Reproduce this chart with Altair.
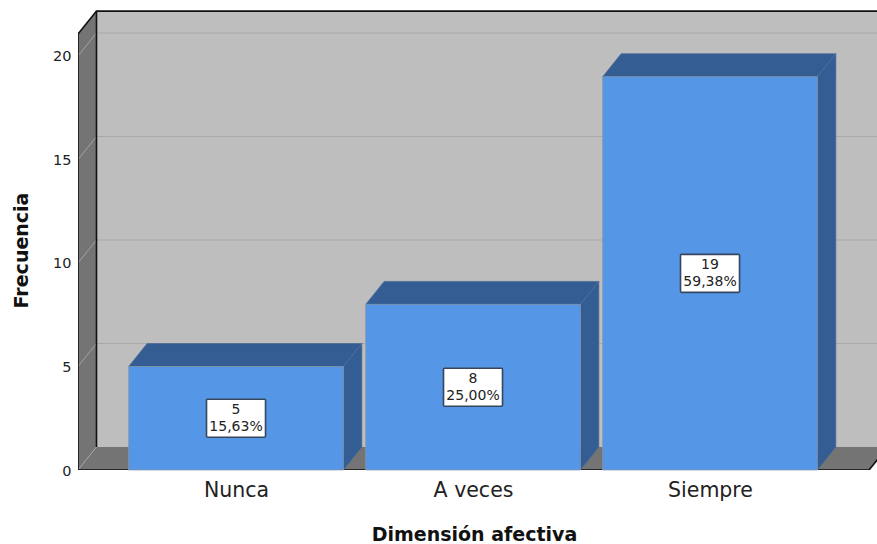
import altair as alt
import pandas as pd

# Values of the chart
categories = ["Nunca", "A veces", "Siempre"]
counts = [5, 8, 19]
percents = ["15,63%", "25,00%", "59,38%"]
y_ticks = [0, 5, 10, 15, 20]

# Geometry of the pseudo-3D box, in data units (category index / frequency)
BAR_HALF = 0.453
DX = 0.078
DY = 1.11
X_MIN = -0.6667
X_MAX = 2.7046
X_FLOOR_END = 2.671
Y_MAX = 22.705
WALL_TOP = 21.06

FRONT = "#5596e6"
SHADE = "#345d94"
EDGE = "#8b95a3"
FACE_EDGE = "#4c6c98"
WALL = "#bebebe"
DARK = "#747474"
FONT = "DejaVu Sans"

x_scale = alt.Scale(domain=[X_MIN, X_MAX], nice=False, zero=False)
y_scale = alt.Scale(domain=[0, Y_MAX], nice=False, zero=False)

# Both axes are shared by every layer so that they merge into one
names = "[" + ",".join(f"'{c}'" for c in categories) + "]"
x_axis = alt.Axis(
    values=[0, 1, 2], labelExpr=f"{names}[datum.value]", title="Dimensión afectiva",
    domain=False, ticks=False, grid=False, labelFont=FONT, labelFontSize=20.5,
    labelColor="#222222", labelPadding=10, labelFlush=False,
    titleFont=FONT, titleFontSize=19, titleFontWeight="bold", titleColor="#111111",
    titleX=396, titleY=55,
)
y_axis = alt.Axis(
    values=y_ticks, title="Frecuencia", domain=False, ticks=False, grid=False,
    labelFont=FONT, labelFontSize=14.5, labelColor="#222222", labelPadding=7, labelOffset=1,
    titleFont=FONT, titleFontSize=19, titleFontWeight="bold", titleColor="#111111",
    titleX=-47, titleY=250,
)


def X(field="x"):
    return alt.X(field, type="quantitative", scale=x_scale, axis=x_axis)


def Y(field="y"):
    return alt.Y(field, type="quantitative", scale=y_scale, axis=y_axis, stack=None)


X2 = alt.X2("x2")
Y2 = alt.Y2("y2")

# Back wall
back_wall = alt.Chart(pd.DataFrame([{
    "x": X_MIN + DX, "x2": X_MAX + DX, "y": DY, "y2": WALL_TOP + DY
}])).mark_rect(color=WALL, clip=True).encode(x=X(), x2=X2, y=Y(), y2=Y2)

# Left wall
left_wall = alt.Chart(pd.DataFrame([
    {"x": X_MIN, "y": 0, "y2": WALL_TOP},
    {"x": X_MIN + DX, "y": DY, "y2": WALL_TOP + DY},
])).mark_area(color=DARK, clip=True, orient="vertical").encode(x=X(), y=Y(), y2=Y2)

# Floor
floor = alt.Chart(pd.DataFrame([
    {"y": 0, "x": X_MIN, "x2": X_FLOOR_END},
    {"y": DY, "x": X_MIN + DX, "x2": X_FLOOR_END + DX},
])).mark_area(color=DARK, clip=True, orient="horizontal").encode(x=X(), x2=X2, y=Y())

# Gridlines on the back wall and on the left wall
back_grid = alt.Chart(pd.DataFrame([
    {"x": X_MIN + DX, "x2": X_MAX + DX, "y": v + DY} for v in y_ticks[1:]
])).mark_rule(color="#a9a9a9", strokeWidth=1, clip=True).encode(x=X(), x2=X2, y=Y())

side_grid = alt.Chart(pd.DataFrame(
    [{"v": v, "x": X_MIN, "y": v} for v in y_ticks]
    + [{"v": v, "x": X_MIN + DX, "y": v + DY} for v in y_ticks]
)).mark_line(color="#a3a3a3", strokeWidth=1, clip=True).encode(x=X(), y=Y(), detail="v:N")

# Black outline of the box
outline_rows = [
    ("front", X_MIN, 0), ("front", X_MIN, WALL_TOP), ("front", X_MIN + DX, WALL_TOP + DY),
    ("front", X_MAX + DX, WALL_TOP + DY),
    ("back", X_MIN + DX, WALL_TOP + DY), ("back", X_MIN + DX, DY),
    ("base", X_MIN, 0), ("base", X_FLOOR_END, 0), ("base", X_FLOOR_END + DX, DY),
]
outline = alt.Chart(pd.DataFrame(
    [{"part": p, "i": i, "x": x, "y": y} for i, (p, x, y) in enumerate(outline_rows)]
)).mark_line(color="#111111", strokeWidth=1.6, clip=True).encode(
    x=X(), y=Y(), detail="part:N", order="i:Q"
)

# Bars: top face, side face, front face
top_rows, side_rows, front_rows = [], [], []
for i, v in enumerate(counts):
    left, right = i - BAR_HALF, i + BAR_HALF
    top_rows += [
        {"i": i, "y": v, "x": left, "x2": right},
        {"i": i, "y": v + DY, "x": left + DX, "x2": right + DX},
    ]
    side_rows += [
        {"i": i, "x": right, "y": 0, "y2": v},
        {"i": i, "x": right + DX, "y": DY, "y2": v + DY},
    ]
    front_rows.append({"x": left, "x2": right, "y": 0, "y2": v})

top_faces = alt.Chart(pd.DataFrame(top_rows)).mark_area(
    color=SHADE, orient="horizontal", stroke=FACE_EDGE, strokeWidth=0.7
).encode(x=X(), x2=X2, y=Y(), detail="i:N")

side_faces = alt.Chart(pd.DataFrame(side_rows)).mark_area(
    color=SHADE, orient="vertical", stroke=FACE_EDGE, strokeWidth=0.7
).encode(x=X(), y=Y(), y2=Y2, detail="i:N")

front_faces = alt.Chart(pd.DataFrame(front_rows)).mark_rect(
    color=FRONT, stroke=EDGE, strokeWidth=0.7
).encode(x=X(), x2=X2, y=Y(), y2=Y2)

# Value labels in the middle of each bar
label_df = pd.DataFrame({
    "x": list(range(len(categories))),
    "mid": [v / 2 for v in counts],
    "count": [str(v) for v in counts],
    "pct": percents,
})
label_base = alt.Chart(label_df).encode(x=X(), y=Y("mid"))
label_box = label_base.mark_rect(
    width=59, height=38, fill="white", stroke="#36465c", strokeWidth=1.6, cornerRadius=1
)
label_count = label_base.mark_text(font=FONT, fontSize=14, color="#222222", dy=-8).encode(text="count:N")
label_pct = label_base.mark_text(font=FONT, fontSize=14, color="#222222", dy=9).encode(text="pct:N")

chart = alt.layer(
    back_wall, back_grid, left_wall, floor, side_grid, outline,
    top_faces, side_faces, front_faces, label_box, label_count, label_pct,
).properties(
    width=799,
    height=470,
    autosize=alt.AutoSizeParams(type="none"),
    padding={"left": 78, "top": 0, "right": 0, "bottom": 74},
    background="white",
).configure_view(stroke=None)

chart.save("out.html", embed_options={"renderer": "svg", "actions": False})
